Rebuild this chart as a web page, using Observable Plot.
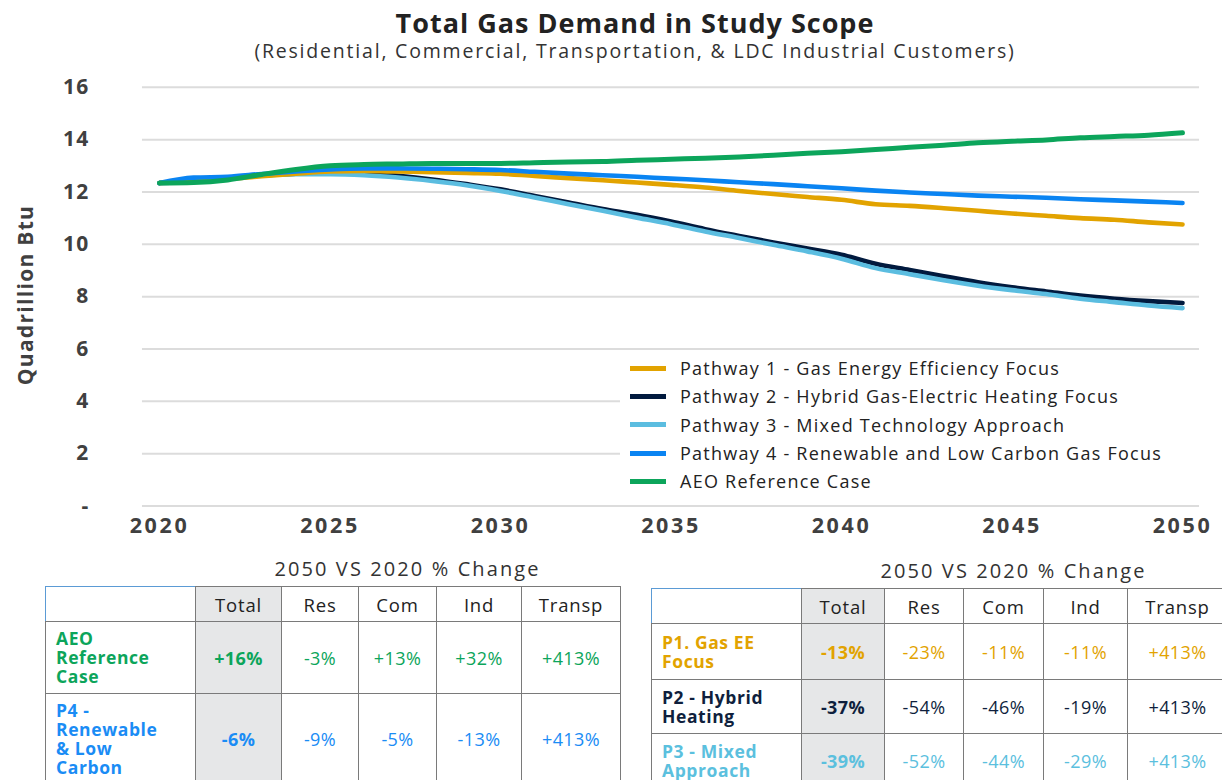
<!DOCTYPE html>
<html>
<head>
<meta charset="utf-8">
<script src="https://cdn.jsdelivr.net/npm/d3@7"></script>
<script src="https://cdn.jsdelivr.net/npm/@observablehq/plot@0.6"></script>
<style>
  html, body { margin: 0; padding: 0; width: 1222px; height: 780px; overflow: hidden; background: #fff; font-family: "Open Sans", Lato, sans-serif; }
  .abs { position: absolute; }
  #title { left: 24px; width: 1222px; top: 4px; text-align: center; font-size: 27px; font-weight: 700; color: #222; letter-spacing: 1px; }
  #subtitle { left: 24px; width: 1222px; top: 37px; text-align: center; font-size: 19.5px; color: #333; letter-spacing: 1.8px; }
  #ylabel { left: 25px; top: 295px; transform: translate(-50%, -50%) rotate(-90deg); font-size: 21px; font-weight: 700; color: #404040; white-space: nowrap; letter-spacing: 1.3px; }
  #chart { left: 0; top: 70px; }
  #chart svg g[aria-label*="x-axis"] text { letter-spacing: 2.6px; font-size: 21.5px; }
  #chart svg g[aria-label*="y-axis"] text { letter-spacing: 1.2px; font-size: 21px; }
  #legend { left: 620px; top: 352px; width: 580px; background: #fff; padding: 2px 0; }
  .lrow { height: 28.3px; display: flex; align-items: center; font-size: 18px; color: #222; letter-spacing: 1.25px; white-space: nowrap; }
  .lsw { width: 36px; height: 5px; margin-left: 10px; margin-right: 14px; }
  .ttitle { font-size: 20px; color: #333; text-align: center; letter-spacing: 2.1px; }
  table { border-collapse: collapse; table-layout: fixed; }
  td { border: 1.5px solid #7a7a7a; text-align: center; font-size: 18px; padding: 0; letter-spacing: 0.4px; }
  td.lab { text-align: left; padding-left: 10px; font-weight: 700; font-size: 17.5px; line-height: 19px; letter-spacing: 0.6px; }
  td.tot { background: #e6e7e8; font-weight: 700; }
  tr.hdr td { color: #222; font-size: 18.5px; letter-spacing: 0.8px; }
  td.corner { border-top: 1px solid #5b9bd5; border-left: 1px solid #5b9bd5; }
</style>
</head>
<body>
<div id="title" class="abs">Total Gas Demand in Study Scope</div>
<div id="subtitle" class="abs">(Residential, Commercial, Transportation, &amp; LDC Industrial Customers)</div>
<div id="chart" class="abs"></div>
<div id="ylabel" class="abs">Quadrillion Btu</div>
<div id="legend" class="abs"></div>
<div id="t1title" class="abs ttitle" style="left:120px; width:575px; top:555px;"></div>
<div id="t1wrap" class="abs" style="left:45px; top:586px;"></div>
<div id="t2title" class="abs ttitle" style="left:726px; width:575px; top:557px;"></div>
<div id="t2wrap" class="abs" style="left:651px; top:588px;"></div>
<script>
// ---------- Data ----------
const years = [2020, 2021, 2022, 2023, 2024, 2025, 2026, 2027, 2028, 2029, 2030,
               2031, 2032, 2033, 2034, 2035, 2036, 2037, 2038, 2039, 2040,
               2041, 2042, 2043, 2044, 2045, 2046, 2047, 2048, 2049, 2050];

const pathway1 = [12.34, 12.42, 12.50, 12.60, 12.70, 12.78, 12.80, 12.78, 12.76, 12.73, 12.70,
                  12.61, 12.53, 12.45, 12.36, 12.27, 12.17, 12.04, 11.92, 11.81, 11.70,
                  11.53, 11.47, 11.38, 11.28, 11.18, 11.09, 11.00, 10.94, 10.84, 10.76];
const pathway2 = [12.34, 12.40, 12.52, 12.63, 12.70, 12.74, 12.72, 12.62, 12.48, 12.30, 12.10,
                  11.85, 11.60, 11.35, 11.13, 10.87, 10.58, 10.32, 10.07, 9.84, 9.60,
                  9.26, 9.02, 8.78, 8.55, 8.36, 8.20, 8.04, 7.92, 7.83, 7.76];
const pathway3 = [12.34, 12.40, 12.52, 12.63, 12.68, 12.68, 12.64, 12.55, 12.42, 12.26, 12.04,
                  11.79, 11.53, 11.28, 11.02, 10.77, 10.49, 10.24, 9.98, 9.73, 9.45,
                  9.09, 8.86, 8.63, 8.42, 8.25, 8.10, 7.92, 7.79, 7.66, 7.56];
const pathway4 = [12.34, 12.55, 12.58, 12.69, 12.78, 12.86, 12.90, 12.90, 12.89, 12.87, 12.84,
                  12.77, 12.70, 12.64, 12.58, 12.51, 12.45, 12.37, 12.30, 12.22, 12.14,
                  12.05, 11.98, 11.92, 11.86, 11.82, 11.78, 11.72, 11.68, 11.63, 11.58];
const aeoReference = [12.34, 12.36, 12.46, 12.67, 12.86, 13.00, 13.05, 13.07, 13.09, 13.09, 13.09,
                      13.12, 13.15, 13.16, 13.21, 13.25, 13.29, 13.34, 13.40, 13.48, 13.54,
                      13.62, 13.71, 13.79, 13.88, 13.94, 13.99, 14.07, 14.12, 14.17, 14.26];

const seriesNames = [
  "Pathway 1 - Gas Energy Efficiency Focus",
  "Pathway 2 - Hybrid Gas-Electric Heating Focus",
  "Pathway 3 - Mixed Technology Approach",
  "Pathway 4 - Renewable and Low Carbon Gas Focus",
  "AEO Reference Case"
];
const seriesColors = ["#e2a300", "#011a3e", "#5bbde0", "#0a84f2", "#0ca55b"];
const seriesValues = [pathway1, pathway2, pathway3, pathway4, aeoReference];
const drawOrder = [1, 2, 0, 3, 4];

const yTicks = [0, 2, 4, 6, 8, 10, 12, 14, 16];
const xTicks = [2020, 2025, 2030, 2035, 2040, 2045, 2050];

// Tables
const tableTitle = "2050 VS 2020 % Change";
const tableCols = ["Total", "Res", "Com", "Ind", "Transp"];
const table1Labels = ["AEO<br>Reference<br>Case", "P4 -<br>Renewable<br>&amp; Low<br>Carbon"];
const table1Colors = ["#0ca55b", "#1a8cf5"];
const table1Values = [["+16%", "-3%", "+13%", "+32%", "+413%"],
                      ["-6%", "-9%", "-5%", "-13%", "+413%"]];
const table2Labels = ["P1. Gas EE<br>Focus", "P2 - Hybrid<br>Heating", "P3 - Mixed<br>Approach"];
const table2Colors = ["#e2a300", "#0f1f3d", "#5bc0de"];
const table2Values = [["-13%", "-23%", "-11%", "-11%", "+413%"],
                      ["-37%", "-54%", "-46%", "-19%", "+413%"],
                      ["-39%", "-52%", "-44%", "-29%", "+413%"]];

// ---------- Chart ----------
const rows = [];
seriesValues.forEach((vals, s) => vals.forEach((v, i) => rows.push({year: years[i], value: v, s})));

const marks = [
  Plot.ruleY(yTicks, {y: d => d, x1: 2019.5, x2: 2050.5, stroke: "#dcdcdc", strokeWidth: 2})
];
for (const s of drawOrder) {
  marks.push(Plot.line(rows.filter(r => r.s === s), {
    x: "year", y: "value", stroke: seriesColors[s],
    strokeWidth: s === 4 ? 5 : 4.6, curve: "monotone-x", strokeLinecap: "round", strokeLinejoin: "round"
  }));
}

const chart = Plot.plot({
  width: 1222, height: 480,
  marginLeft: 159, marginRight: 40, marginTop: 16.8, marginBottom: 44.5,
  style: {fontFamily: "'Open Sans', sans-serif", fontSize: "20px", fontWeight: 700, color: "#404040", background: "transparent", overflow: "visible"},
  x: {domain: [2020, 2050], ticks: xTicks, tickFormat: d => String(d), tickSize: 0, tickPadding: 12, label: null},
  y: {domain: [0, 16], ticks: yTicks, tickFormat: d => d === 0 ? "-" : String(d), tickSize: 0, tickPadding: 70, label: null},
  marks
});
document.getElementById("chart").appendChild(chart);

// ---------- Legend ----------
const legend = document.getElementById("legend");
seriesNames.forEach((name, i) => {
  const row = document.createElement("div");
  row.className = "lrow";
  row.innerHTML = `<span class="lsw" style="background:${seriesColors[i]}"></span><span>${name}</span>`;
  legend.appendChild(row);
});

// ---------- Tables ----------
function buildTable(wrapId, widths, heights, labels, colors, values) {
  let html = `<table style="width:${widths.reduce((a, b) => a + b, 0)}px"><colgroup>`;
  widths.forEach(w => html += `<col style="width:${w}px">`);
  html += `</colgroup><tr class="hdr" style="height:${heights[0]}px"><td class="corner"></td>`;
  tableCols.forEach((c, j) => html += `<td class="${j === 0 ? 'tot' : ''}" style="font-weight:400">${c}</td>`);
  html += `</tr>`;
  labels.forEach((lab, i) => {
    html += `<tr style="height:${heights[i + 1]}px"><td class="lab" style="color:${colors[i]}">${lab}</td>`;
    values[i].forEach((v, j) => html += `<td class="${j === 0 ? 'tot' : ''}" style="color:${colors[i]}">${v}</td>`);
    html += `</tr>`;
  });
  html += `</table>`;
  document.getElementById(wrapId).innerHTML = html;
}
document.getElementById("t1title").textContent = tableTitle;
document.getElementById("t2title").textContent = tableTitle;
buildTable("t1wrap", [150, 86, 77, 78, 85, 99], [35, 72, 90], table1Labels, table1Colors, table1Values);
buildTable("t2wrap", [150, 83, 79, 80, 84, 100], [35, 56, 54, 54], table2Labels, table2Colors, table2Values);
</script>
</body>
</html>
